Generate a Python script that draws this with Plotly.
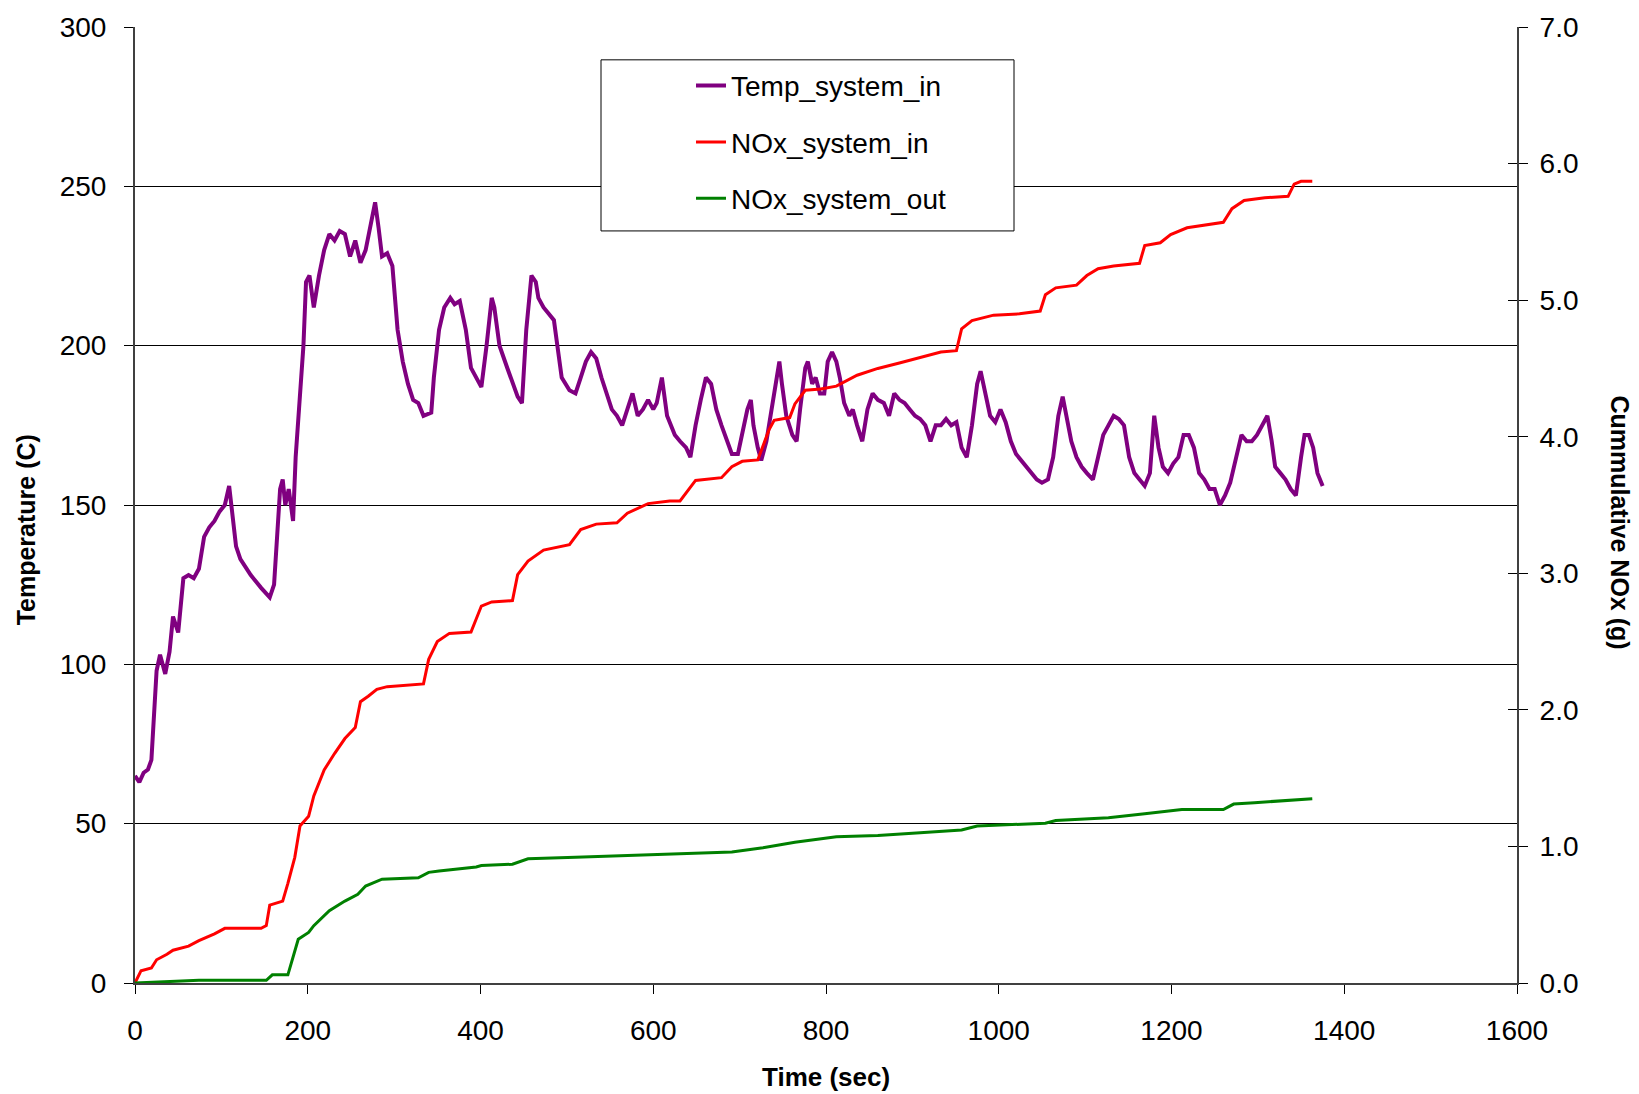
import plotly.graph_objects as go

# ---------------- data ----------------
temp_time = [0, 5, 10, 15, 19, 22, 25, 29, 35, 40, 44, 50, 56, 62, 68, 74, 80, 86, 92, 98, 104, 109, 113, 117,
             122, 134, 146, 156, 161, 165, 168, 171, 174, 178, 183, 186, 191, 195, 198, 202, 207, 213, 219, 225,
             231, 237, 243, 249, 255, 261, 267, 273, 278, 282, 286, 292, 298, 304, 310, 316, 322, 328, 334, 343,
             346, 352, 358, 365, 370, 376, 383, 389, 395, 401, 407, 413, 416, 422, 431, 437, 443, 448, 453, 459,
             464, 467, 473, 479, 485, 489, 494, 503, 510, 516, 522, 528, 534, 540, 546, 552, 558, 564, 570, 576,
             582, 588, 594, 600, 604, 610, 616, 625, 631, 638, 643, 649, 655, 661, 667, 673, 679, 685, 691, 698,
             703, 709, 713, 716, 721, 725, 731, 737, 742, 746, 749, 754, 761, 766, 770, 776, 779, 784, 788, 793,
             798, 802, 807, 812, 816, 821, 827, 831, 836, 842, 848, 854, 860, 867, 873, 879, 885, 891, 897, 903,
             909, 915, 921, 927, 933, 939, 945, 951, 957, 963, 969, 975, 979, 984, 990, 996, 1002, 1008, 1014,
             1020, 1026, 1032, 1038, 1044, 1050, 1057, 1063, 1069, 1074, 1078, 1084, 1090, 1096, 1102, 1109,
             1115, 1121, 1127, 1133, 1139, 1145, 1151, 1157, 1163, 1169, 1175, 1180, 1185, 1190, 1196, 1202,
             1208, 1214, 1220, 1226, 1232, 1238, 1244, 1250, 1256, 1262, 1268, 1275, 1281, 1287, 1293, 1299,
             1305, 1311, 1316, 1320, 1326, 1332, 1338, 1344, 1350, 1354, 1359, 1364, 1369, 1375]
temp_system_in = [65, 63, 66, 67, 70, 85, 98, 103, 97, 104, 115, 110, 127, 128, 127, 130, 140, 143, 145, 148, 150,
                  156, 145, 137, 133, 128, 124, 121, 125, 140, 155, 158, 150, 155, 145, 165, 185, 200, 220, 222,
                  212, 222, 230, 235, 233, 236, 235, 228, 233, 226, 230, 238, 245, 237, 228, 229, 225, 205, 195,
                  188, 183, 182, 178, 179, 190, 205, 212, 215, 213, 214, 205, 193, 190, 187, 200, 215, 212, 200,
                  193, 188, 184, 182, 205, 222, 220, 215, 212, 210, 208, 200, 190, 186, 185, 190, 195, 198, 196,
                  190, 185, 180, 178, 175, 180, 185, 178, 180, 183, 180, 182, 190, 178, 172, 170, 168, 165, 175,
                  183, 190, 188, 180, 175, 170, 166, 166, 172, 180, 183, 175, 168, 164, 170, 180, 188, 195, 188,
                  178, 172, 170, 180, 193, 195, 188, 190, 185, 185, 195, 198, 195, 190, 182, 178, 180, 175, 170,
                  180, 185, 183, 182, 178, 185, 183, 182, 180, 178, 177, 175, 170, 175, 175, 177, 175, 176, 168,
                  165, 175, 188, 192, 185, 178, 176, 180, 176, 170, 166, 164, 162, 160, 158, 157, 158, 165, 178,
                  184, 178, 170, 165, 162, 160, 158, 165, 172, 175, 178, 177, 175, 165, 160, 158, 156, 160, 178,
                  168, 162, 160, 163, 165, 172, 172, 168, 160, 158, 155, 155, 150, 153, 157, 165, 172, 170, 170,
                  172, 175, 178, 170, 162, 160, 158, 155, 153, 165, 172, 172, 168, 160, 156]

nox_in_time = [0, 7, 19, 25, 37, 44, 62, 74, 92, 104, 146, 152, 156, 171, 177, 185, 191, 201, 207, 219, 231, 243,
               255, 261, 270, 280, 292, 334, 340, 350, 364, 389, 401, 413, 437, 443, 455, 473, 503, 516, 534, 558,
               570, 594, 619, 631, 649, 679, 691, 703, 721, 734, 740, 758, 764, 776, 794, 812, 836, 860, 885, 909,
               933, 951, 957, 969, 994, 1024, 1048, 1054, 1066, 1090, 1102, 1115, 1133, 1163, 1169, 1187, 1199,
               1218, 1248, 1260, 1270, 1284, 1308, 1335, 1342, 1350, 1363]
nox_system_in = [0.0, 0.09, 0.11, 0.17, 0.21, 0.24, 0.27, 0.31, 0.36, 0.40, 0.40, 0.42, 0.57, 0.60, 0.73, 0.92,
                 1.15, 1.22, 1.37, 1.56, 1.68, 1.79, 1.87, 2.06, 2.10, 2.15, 2.17, 2.19, 2.37, 2.50, 2.56, 2.57,
                 2.76, 2.79, 2.80, 2.99, 3.09, 3.17, 3.21, 3.32, 3.36, 3.37, 3.44, 3.51, 3.53, 3.53, 3.68, 3.70,
                 3.78, 3.82, 3.83, 4.05, 4.12, 4.14, 4.24, 4.34, 4.35, 4.37, 4.45, 4.50, 4.54, 4.58, 4.62, 4.63,
                 4.79, 4.85, 4.89, 4.90, 4.92, 5.04, 5.09, 5.11, 5.18, 5.23, 5.25, 5.27, 5.40, 5.42, 5.48, 5.53,
                 5.56, 5.57, 5.67, 5.73, 5.75, 5.76, 5.85, 5.87, 5.87]

nox_out_time = [0, 37, 74, 152, 159, 177, 183, 189, 201, 207, 225, 243, 258, 267, 286, 328, 340, 352, 395, 401,
                437, 455, 510, 594, 643, 691, 727, 764, 812, 860, 909, 957, 975, 1006, 1054, 1066, 1127, 1169,
                1212, 1260, 1272, 1296, 1344, 1363]
nox_system_out = [0.0, 0.01, 0.02, 0.02, 0.06, 0.06, 0.19, 0.32, 0.37, 0.42, 0.53, 0.60, 0.65, 0.71, 0.76, 0.77,
                  0.81, 0.82, 0.85, 0.86, 0.87, 0.91, 0.92, 0.94, 0.95, 0.96, 0.99, 1.03, 1.07, 1.08, 1.10, 1.12,
                  1.15, 1.16, 1.17, 1.19, 1.21, 1.24, 1.27, 1.27, 1.31, 1.32, 1.34, 1.35]

x_ticks = [0, 200, 400, 600, 800, 1000, 1200, 1400, 1600]
left_ticks = [0, 50, 100, 150, 200, 250, 300]
right_ticks = [0, 1, 2, 3, 4, 5, 6, 7]

# ---------------- figure ----------------
W, H = 1639, 1094
ML, MR, MT, MB = 135, 122, 22, 111
FONT = "Liberation Sans, Arial, sans-serif"

fig = go.Figure()
fig.add_trace(go.Scatter(x=temp_time, y=temp_system_in, mode="lines", name="Temp_system_in",
                         line=dict(color="#800080", width=4), yaxis="y", legendgroup="a"))
fig.add_trace(go.Scatter(x=nox_in_time, y=nox_system_in, mode="lines", name="NOx_system_in",
                         line=dict(color="#FF0000", width=3), yaxis="y2", legendgroup="b"))
fig.add_trace(go.Scatter(x=nox_out_time, y=nox_system_out, mode="lines", name="NOx_system_out",
                         line=dict(color="#008000", width=3), yaxis="y2", legendgroup="c"))
# invisible carrier for the inner tick marks of the right axis
fig.add_trace(go.Scatter(x=nox_out_time, y=nox_system_out, mode="lines", showlegend=False,
                         line=dict(width=0), opacity=0, yaxis="y3", hoverinfo="skip"))

axis_line = "#404040"
pw, ph = W - ML - MR, H - MT - MB
fig.update_layout(
    width=W, height=H,
    margin=dict(l=ML, r=MR, t=MT, b=MB),
    paper_bgcolor="white", plot_bgcolor="white",
    font=dict(family=FONT, size=28, color="black"),
    showlegend=True,
    xaxis=dict(range=[0, 1600], tickvals=x_ticks, ticks="outside", ticklen=9, tickcolor="black",
               showline=True, linecolor=axis_line, linewidth=2, showgrid=False, zeroline=False,
               tickfont=dict(size=28), ticklabelstandoff=12),
    yaxis=dict(range=[0, 300], tickvals=left_ticks, ticks="outside", ticklen=9, tickcolor="black",
               showline=True, linecolor=axis_line, linewidth=2, showgrid=True, gridcolor="black",
               gridwidth=1, zeroline=False, tickfont=dict(size=28), ticklabelstandoff=12),
    yaxis2=dict(range=[0, 7], tickvals=right_ticks, tickformat=".1f", overlaying="y", side="right",
                ticks="outside", ticklen=9, tickcolor="black", showline=True, linecolor=axis_line,
                linewidth=2, showgrid=False, zeroline=False, tickfont=dict(size=28), ticklabelstandoff=6),
    yaxis3=dict(range=[0, 7], tickvals=right_ticks, overlaying="y", side="right", ticks="inside",
                ticklen=9, tickcolor="black", showline=False, showgrid=False, zeroline=False,
                showticklabels=False),
    legend=dict(x=(691 - ML) / pw, y=(H - MB - 56) / ph, xanchor="left",
                yanchor="top", bgcolor="rgba(0,0,0,0)", borderwidth=0, tracegroupgap=17,
                font=dict(size=28, family=FONT)),
)

# legend frame (white box with thin black border covering the gridline)
fig.add_shape(type="rect", xref="paper", yref="paper",
              x0=(601 - ML) / pw, x1=(1014 - ML) / pw,
              y0=(H - MB - 227) / ph, y1=(H - MB - 55) / ph,
              line=dict(color="black", width=1), fillcolor="white", layer="above")

# axis titles
fig.add_annotation(text="<b>Temperature (C)</b>", xref="paper", yref="paper",
                   x=(26 - ML) / pw, y=(H - MB - 528) / ph, textangle=-90, showarrow=False,
                   font=dict(size=25, family=FONT), xanchor="center", yanchor="middle")
fig.add_annotation(text="<b>Time (sec)</b>", xref="paper", yref="paper",
                   x=0.5, y=(H - MB - 1077) / ph, showarrow=False,
                   font=dict(size=26, family=FONT), xanchor="center", yanchor="middle")
fig.add_annotation(text="<b>Cummulative NOx (g)</b>", xref="paper", yref="paper",
                   x=(1620 - ML) / pw, y=(H - MB - 520) / ph, textangle=90, showarrow=False,
                   font=dict(size=25, family=FONT), xanchor="center", yanchor="middle")

fig.write_html("out.html", config={"displayModeBar": False},
               post_script="document.body.style.margin='0px';document.body.style.overflow='hidden';")
